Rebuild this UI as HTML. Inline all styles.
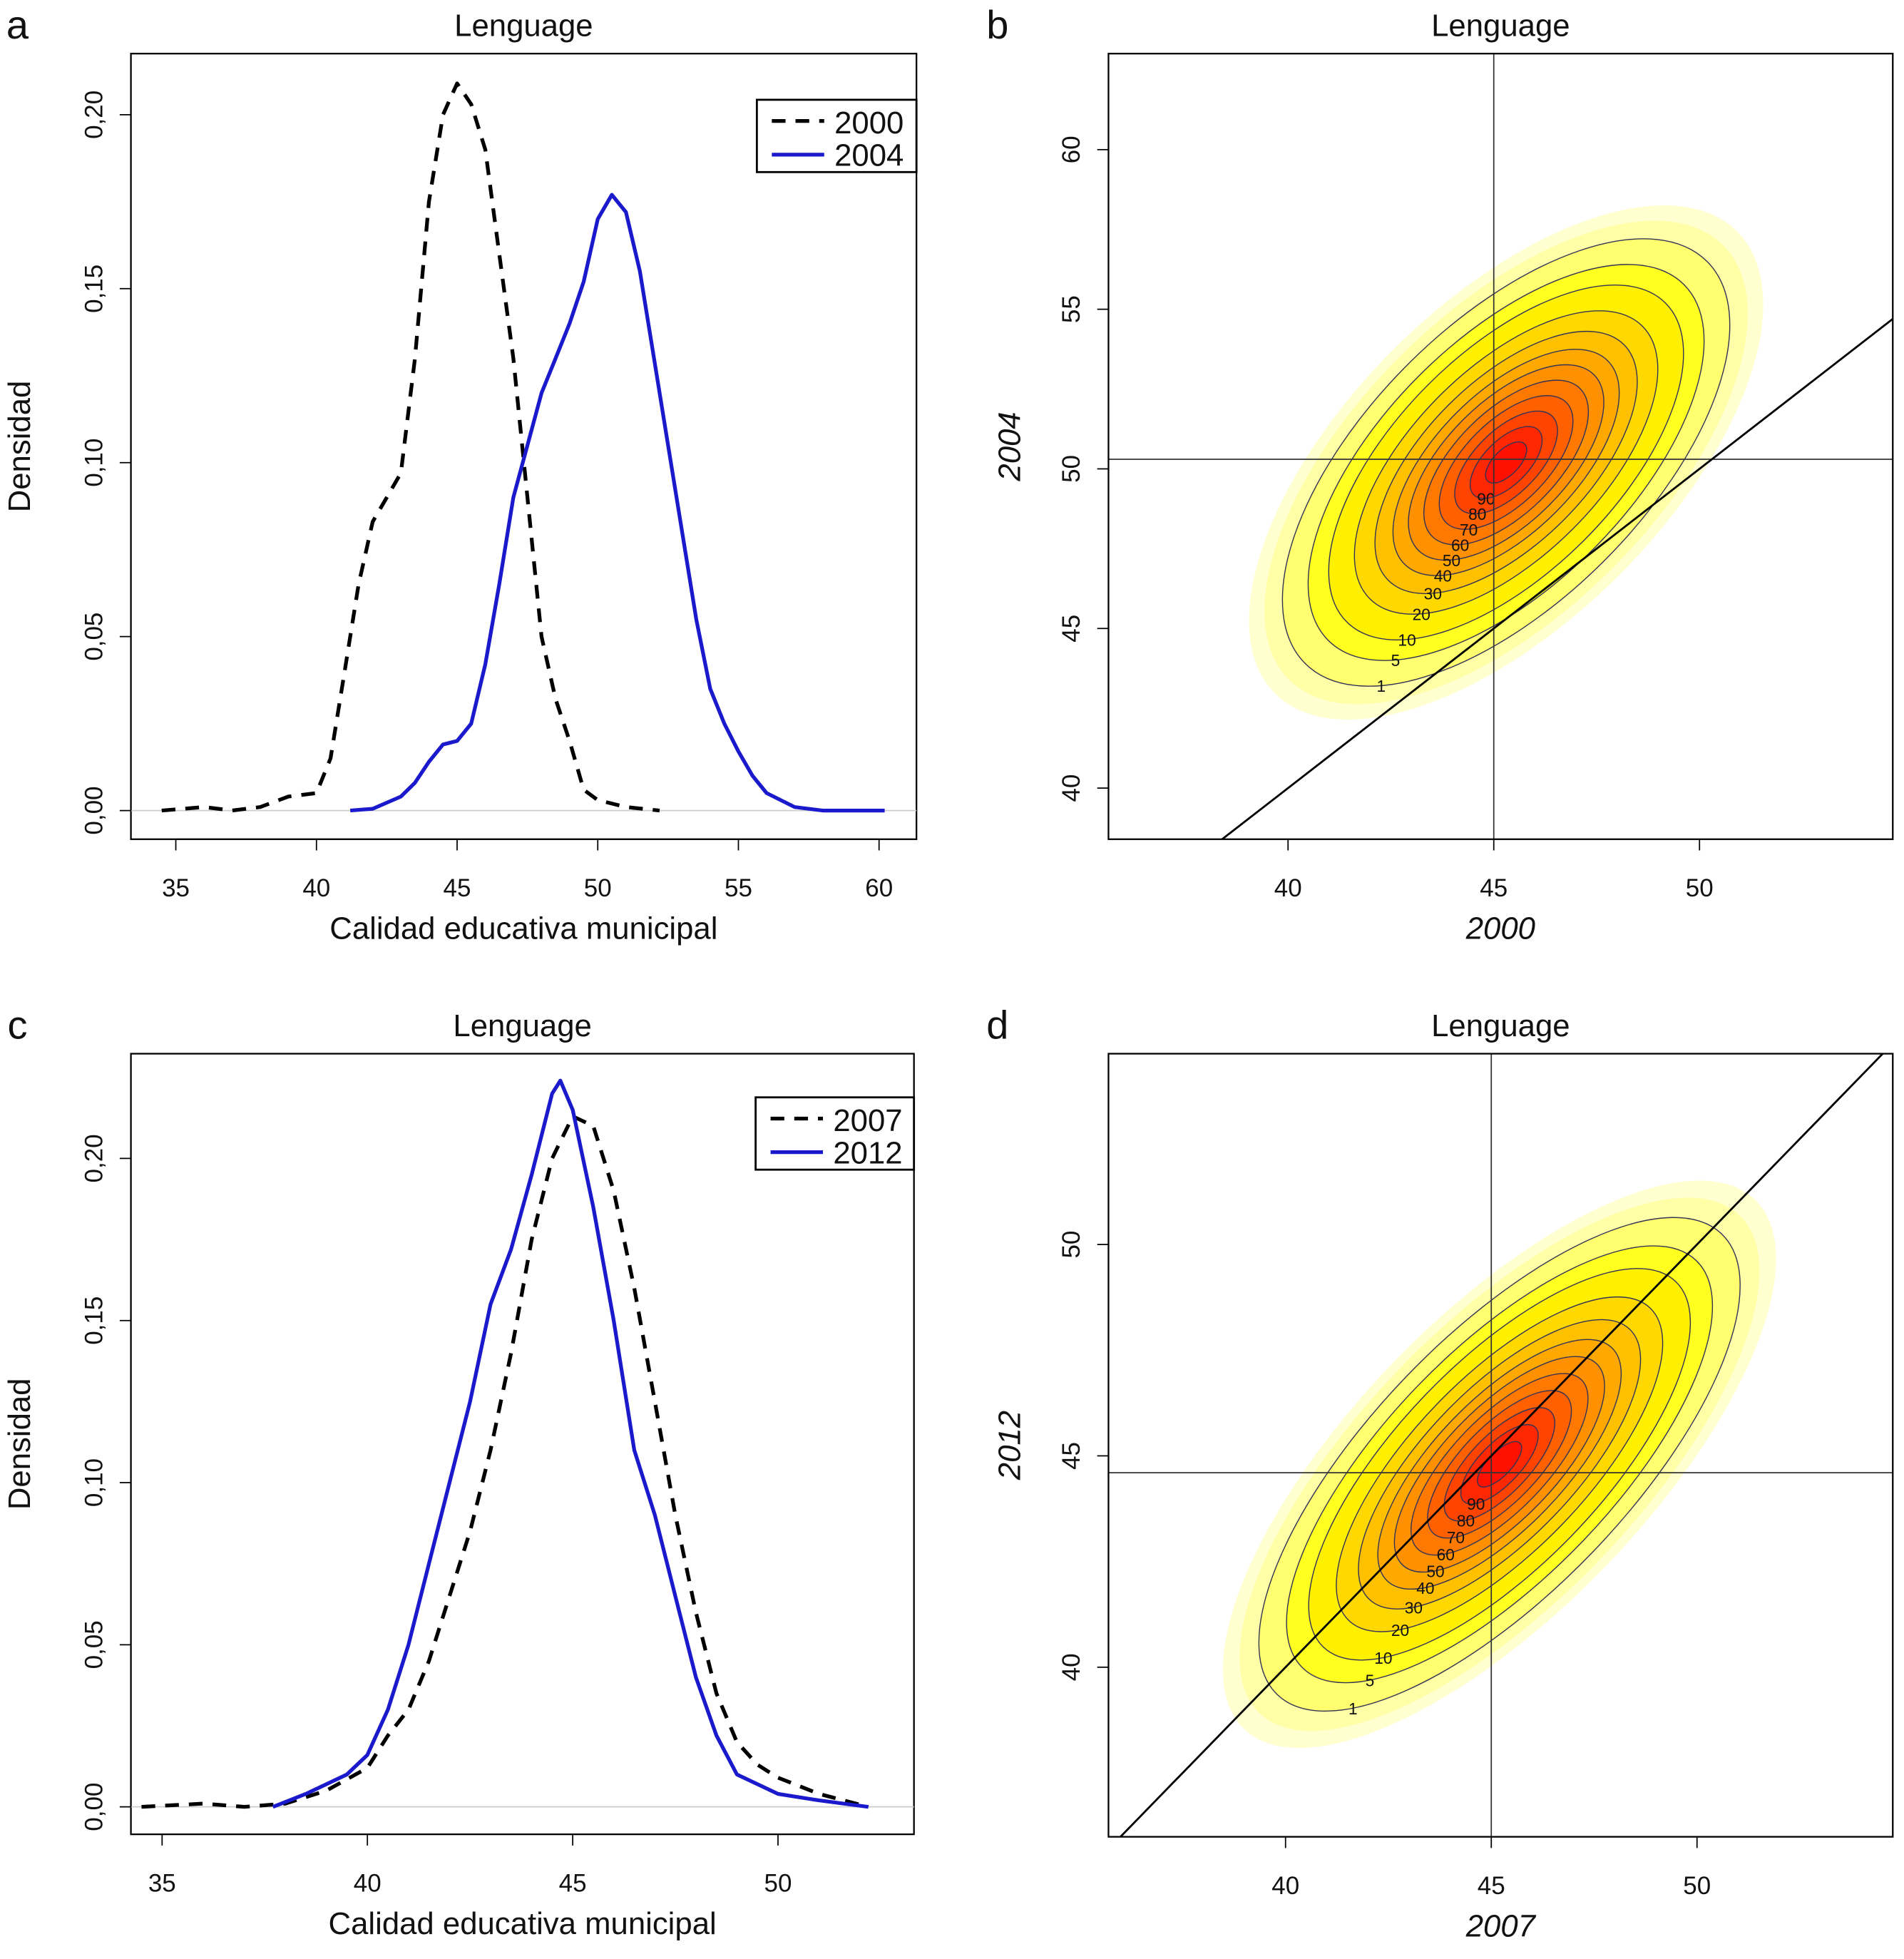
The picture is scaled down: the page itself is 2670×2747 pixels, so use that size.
<!DOCTYPE html>
<html><head><meta charset="utf-8"><style>
html,body{margin:0;padding:0;background:#fff;overflow:hidden;width:2670px;height:2747px;position:relative}
svg{display:block;position:absolute;left:0;top:0}
text{font-family:"Liberation Sans",Arial,sans-serif;fill:#111}
</style></head><body>
<svg id="fig" width="2670" height="2747" viewBox="0 0 1527 1571" preserveAspectRatio="none" overflow="hidden" xmlns="http://www.w3.org/2000/svg"></svg>
<script>
// ---- Data ----
const xA2000=[34.5,36,37,38,39,40,40.5,41,41.5,42,42.5,43,43.5,44,44.5,45,45.5,46,46.5,47,47.5,48,48.5,49,49.5,50,51,52.2];
const yA2000=[0,0.001,0,0.001,0.004,0.005,0.015,0.04,0.065,0.083,0.09,0.097,0.13,0.175,0.2,0.209,0.203,0.19,0.16,0.13,0.09,0.05,0.032,0.02,0.006,0.003,0.001,0];
const xA2004=[41.2,42,43,43.5,44,44.5,45,45.5,46,46.5,47,47.5,48,48.5,49,49.5,50,50.5,51,51.5,52,52.5,53,53.5,54,54.5,55,55.5,56,57,58,60.2];
const yA2004=[0,0.0005,0.004,0.008,0.014,0.019,0.02,0.025,0.042,0.065,0.09,0.105,0.12,0.13,0.14,0.152,0.17,0.177,0.172,0.155,0.13,0.105,0.08,0.055,0.035,0.025,0.017,0.01,0.005,0.001,0,0];
const xC2007=[34.5,36,37,38,39,40,40.5,41,41.5,42,42.5,43,43.5,44,44.5,45,45.5,46,46.5,47,47.5,48,48.5,49,49.5,50,51,52.2];
const yC2007=[0,0.001,0,0.001,0.005,0.012,0.022,0.03,0.045,0.065,0.085,0.11,0.14,0.175,0.2,0.213,0.21,0.19,0.16,0.125,0.09,0.06,0.035,0.02,0.013,0.009,0.004,0];
const xC2012=[37.7,38.5,39.5,40,40.5,41,41.5,42,42.5,43,43.5,44,44.5,44.7,45,45.5,46,46.5,47,47.5,48,48.5,49,50,51,52.2];
const yC2012=[0,0.004,0.01,0.016,0.03,0.05,0.075,0.1,0.125,0.155,0.172,0.195,0.22,0.224,0.215,0.185,0.15,0.11,0.09,0.065,0.04,0.022,0.01,0.004,0.002,0];
const densTicksY=[0,0.05,0.10,0.15,0.20];
const densTickLabels=["0,00","0,05","0,10","0,15","0,20"];
const contourLevels=[1,5,10,20,30,40,50,60,70,80,90,95];
const bandScale=[1.0,0.94,0.87,0.77,0.69,0.59,0.51,0.44,0.38,0.32,0.26,0.2,0.14,0.08];
const bandColors=["#ffffd0","#ffffa8","#ffff70","#ffff20","#fff000","#ffd800","#ffc000","#ffa800","#ff9000","#ff7800","#ff6000","#ff4400","#ff2800","#ff1000"];

const NS="http://www.w3.org/2000/svg";
const svg=document.getElementById('fig');
function el(tag,attrs,parent){const e=document.createElementNS(NS,tag);for(const k in attrs)e.setAttribute(k,attrs[k]);(parent||svg).appendChild(e);return e;}
function txt(s,x,y,size,attrs,parent){const t=el('text',Object.assign({x:x,y:y,'font-size':size,'text-anchor':'middle'},attrs||{}),parent);t.textContent=s;return t;}

function densityPanel(o){
  const g=el('g',{});
  
  
  const sx=v=>o.x0px+(v-o.x0)*o.kx, sy=v=>o.y0px-v*o.ky;
  const box=el('rect',{x:o.L,y:o.T,width:o.R-o.L,height:o.B-o.T,fill:'none',stroke:'#000','stroke-width':1.3},g);
  
  el('line',{x1:o.L,x2:o.R,y1:sy(0),y2:sy(0),stroke:'#ccc','stroke-width':1},g);
  o.xt.forEach(v=>{el('line',{x1:sx(v),x2:sx(v),y1:o.B,y2:o.B+9,stroke:'#000'},g);
    const t=txt(String(v),sx(v),o.B+46,20,{},g);});
  el('line',{x1:sx(o.xt[0]),x2:sx(o.xt[o.xt.length-1]),y1:o.B,y2:o.B,stroke:'#000'},g);
  densTicksY.forEach((v,i)=>{el('line',{x1:o.L,x2:o.L-9,y1:sy(v),y2:sy(v),stroke:'#000'},g);
    const t=txt(densTickLabels[i],o.L-30,sy(v),20,{transform:`rotate(-90 ${o.L-30} ${sy(v)})`,dy:7},g);});
  el('line',{x1:o.L,x2:o.L,y1:sy(0),y2:sy(0.2),stroke:'#000'},g);
  const xt=txt('Calidad educativa municipal',(o.L+o.R)/2,o.B+80,25,{},g);
  const yt=txt('Densidad',24,(o.T+o.B)/2,25,{transform:`rotate(-90 24 ${(o.T+o.B)/2})`},g);
  const tt=txt('Lenguage',(o.L+o.R)/2,o.T-14,25,{},g);
  const lt=txt(o.letter,14,o.T-12,32,{},g);
  const mk=(xs,ys,attrs,name)=>{const p=el('path',Object.assign({d:xs.map((x,i)=>(i?'L':'M')+sx(x).toFixed(1)+' '+sy(ys[i]).toFixed(1)).join(' '),fill:'none','stroke-width':3,'stroke-linejoin':'round'},attrs),g);};
  mk(o.dx,o.dy,{stroke:'#000','stroke-dasharray':'11 8'},'series-'+o.lab1);
  mk(o.bx,o.by,{stroke:'#1a1acc'},'series-'+o.lab2);
  const lg=el('g',{},g);
  el('rect',{x:o.lx,y:o.ly,width:o.R-o.lx,height:58,fill:'#fff',stroke:'#000','stroke-width':1.6},lg);
  el('line',{x1:o.lx+12,x2:o.lx+54,y1:o.ly+17,y2:o.ly+17,stroke:'#000','stroke-width':3,'stroke-dasharray':'11 8'},lg);
  el('line',{x1:o.lx+12,x2:o.lx+54,y1:o.ly+44,y2:o.ly+44,stroke:'#1a1acc','stroke-width':3},lg);
  txt(o.lab1,o.lx+90,o.ly+27,25,{},lg);
  txt(o.lab2,o.lx+90,o.ly+53,25,{},lg);
}

densityPanel({name:'panel-a',letter:'a',L:105,R:735,T:43,B:673,x0:35,x0px:141,kx:22.56,y0px:650,ky:2790,xt:[35,40,45,50,55,60],
  dx:xA2000,dy:yA2000,bx:xA2004,by:yA2004,lab1:'2000',lab2:'2004',lx:607,ly:80});
densityPanel({name:'panel-c',letter:'c',L:105,R:733,T:845,B:1471,x0:35,x0px:130,kx:32.93,y0px:1449,ky:2600,xt:[35,40,45,50],
  dx:xC2007,dy:yC2007,bx:xC2012,by:yC2012,lab1:'2007',lab2:'2012',lx:606,ly:880});

function contourPanel(o){
  const g=el('g',{});
  
  
  const sx=v=>o.x40+(v-40)*o.kx, sy=v=>o.yref-(v-o.yrefv)*o.ky;
  const cid='clip'+o.name;
  const cp=el('clipPath',{id:cid},g);el('rect',{x:o.L,y:o.T,width:o.R-o.L,height:o.B-o.T},cp);
  const inner=el('g',{'clip-path':`url(#${cid})`},g);
  const cx=sx(o.cx),cy=sy(o.cy);
  bandScale.forEach((s,i)=>{const e=el('ellipse',{cx:cx,cy:cy,rx:o.a*s,ry:o.b*s,fill:bandColors[i],transform:`rotate(${o.ang} ${cx} ${cy})`},inner);
    });
  contourLevels.forEach((lv,i)=>{const s=bandScale[i+2];
    const e=el('ellipse',{cx:cx,cy:cy,rx:o.a*s,ry:o.b*s,fill:'none',stroke:'#333355','stroke-width':0.8,transform:`rotate(${o.ang} ${cx} ${cy})`},inner);
    
    const t=150*Math.PI/180, r=o.ang*Math.PI/180;
    const px=o.a*s*Math.cos(t), py=o.b*s*Math.sin(t);
    const lx=cx+px*Math.cos(r)-py*Math.sin(r), ly=cy+px*Math.sin(r)+py*Math.cos(r);
    if(s>0.1){const lb=txt(String(lv),lx,ly+5,13,{},inner);}
  });
  el('line',{x1:sx(o.vx),x2:sx(o.vx),y1:o.T,y2:o.B,stroke:'#333','stroke-width':1},inner);
  el('line',{x1:o.L,x2:o.R,y1:sy(o.hy),y2:sy(o.hy),stroke:'#333','stroke-width':1},inner);
  const d=el('line',{x1:sx(30),y1:sy(30),x2:sx(60),y2:sy(60),stroke:'#000','stroke-width':1.6},inner);
  
  el('rect',{x:o.L,y:o.T,width:o.R-o.L,height:o.B-o.T,fill:'none',stroke:'#000','stroke-width':1.3},g);
  [40,45,50].forEach(v=>{el('line',{x1:sx(v),x2:sx(v),y1:o.B,y2:o.B+9,stroke:'#000'},g);
    const t=txt(String(v),sx(v),o.B+46,20,{},g);});
  o.yt.forEach(v=>{el('line',{x1:o.L,x2:o.L-9,y1:sy(v),y2:sy(v),stroke:'#000'},g);
    const t=txt(String(v),o.L-30,sy(v),20,{transform:`rotate(-90 ${o.L-30} ${sy(v)})`,dy:7},g);});
  const xt=txt(o.xlab,(o.L+o.R)/2,o.B+80,25,{'font-style':'italic'},g);
  const yx=818,ym=(o.T+o.B)/2;
  const yt=txt(o.ylab,yx,ym,25,{'font-style':'italic',transform:`rotate(-90 ${yx} ${ym})`},g);
  const tt=txt('Lenguage',(o.L+o.R)/2,o.T-14,25,{},g);
  const lt=txt(o.letter,800,o.T-12,32,{},g);
}
contourPanel({name:'panel-b',letter:'b',L:889,R:1518,T:43,B:673,x40:1033,kx:33,yref:632,yrefv:40,ky:25.6,cx:45.3,cy:50.2,a:262,b:128,ang:-45,vx:45,hy:50.3,yt:[40,45,50,55,60],xlab:'2000',ylab:'2004'});
contourPanel({name:'panel-d',letter:'d',L:889,R:1518,T:845,B:1473,x40:1031,kx:33,yref:1337,yrefv:40,ky:33.9,cx:45.2,cy:44.8,a:295,b:118,ang:-46,vx:45,hy:44.6,yt:[40,45,50],xlab:'2007',ylab:'2012'});
</script>
</body></html>
